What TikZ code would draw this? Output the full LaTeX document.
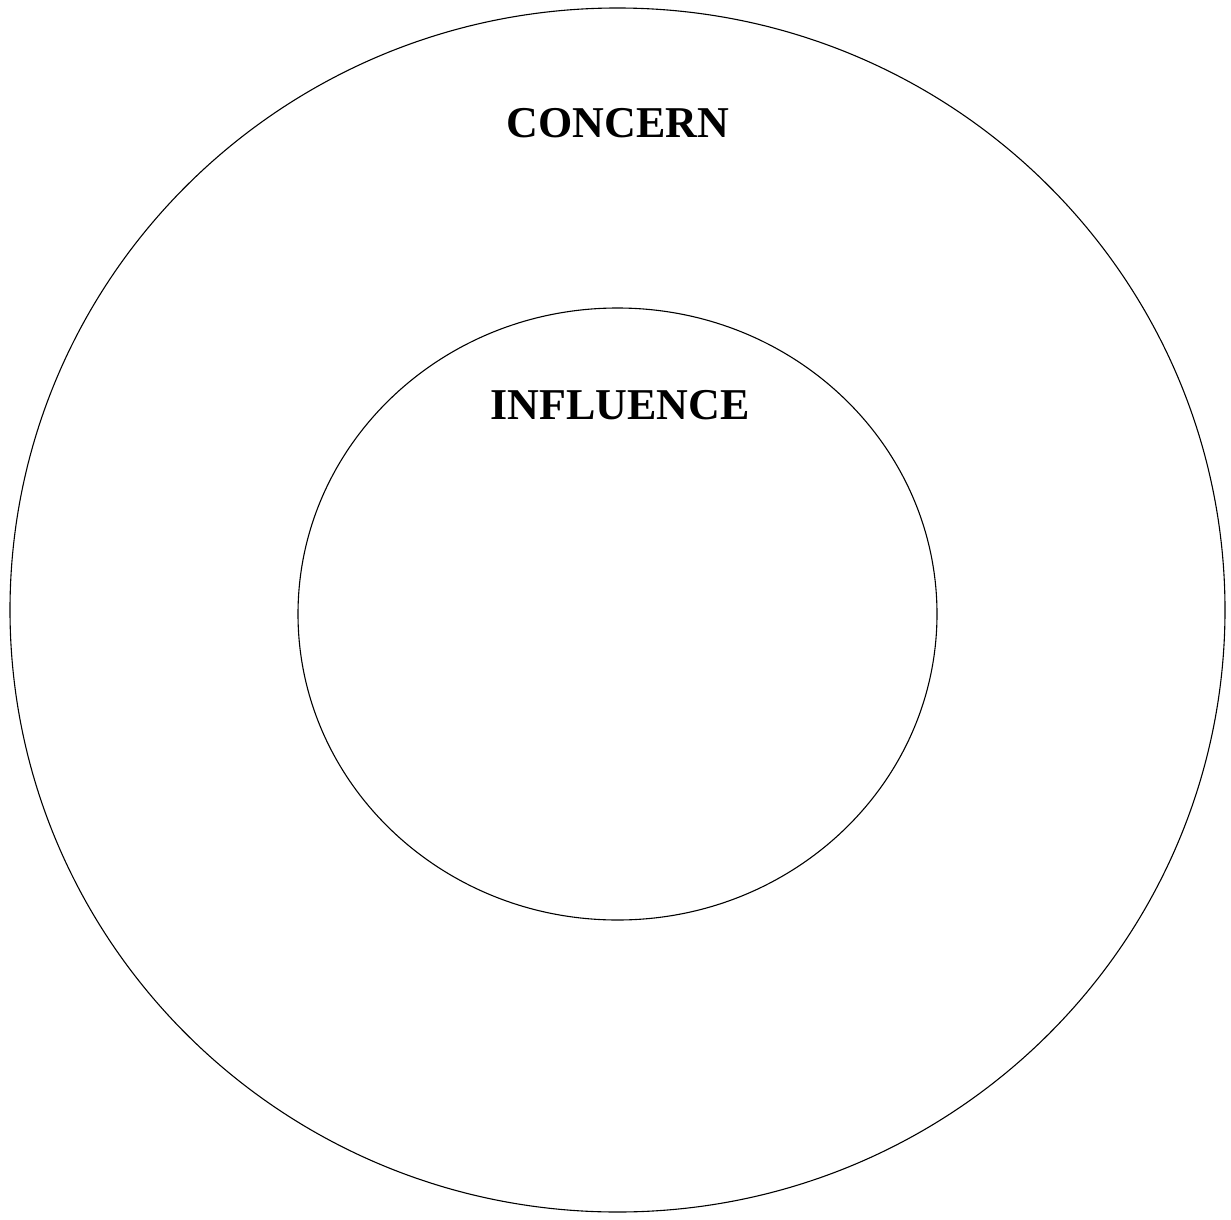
\documentclass[tikz,border=0pt]{standalone}
\usepackage{fontspec}
\setmainfont{Liberation Serif}
\usetikzlibrary{positioning}
\tikzset{
  ring/.style={draw=black,line width=1.1pt},
  zonelabel/.style={font=\fontsize{44}{50}\selectfont\bfseries,inner sep=0pt}
}
\begin{document}
\begin{tikzpicture}[x=1pt,y=-1pt]
  \useasboundingbox (0,0) rectangle (1231,1220);
  % Circle of concern
  \draw[ring] (617.5,610) ellipse[x radius=607.5,y radius=602];
  \node[zonelabel] (concern) at (618,123) {CONCERN};
  % Circle of influence
  \draw[ring] (617.5,614) ellipse[x radius=319.5,y radius=306];
  \node[zonelabel] (influence) at (620,405) {INFLUENCE};
\end{tikzpicture}
\end{document}
